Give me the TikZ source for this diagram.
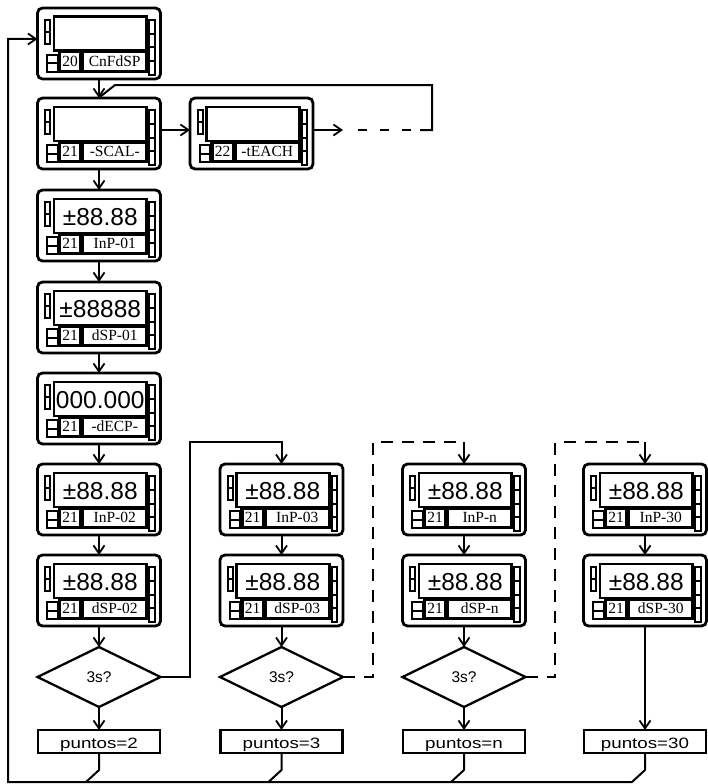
\documentclass[tikz,border=0pt]{standalone}
\usepackage{fontspec}
\setmainfont{Liberation Serif}
\newfontfamily\sansf{Liberation Sans}
\newfontfamily\sanswide[FakeStretch=1.25]{Liberation Sans}
\usetikzlibrary{arrows.meta,shapes.geometric,calc}
\newcommand\devbig{\sansf\fontsize{24.5pt}{24.5pt}\selectfont}
\newcommand\devsmall{\rmfamily\fontsize{15.5pt}{15.5pt}\selectfont}
\tikzset{
 devframe/.style={draw, line width=2.8pt, rounded corners=5pt, minimum width=123pt, minimum height=71pt, inner sep=0pt, outer sep=0pt, anchor=north west, fill=white},
 conn/.style={line width=2pt},
 arr/.style={conn, -{Straight Barb[length=8pt,width=11pt,line width=1.8pt]}},
 dsh/.style={conn, dash pattern=on 12pt off 9pt},
 decision/.style={diamond, aspect=2, draw, line width=2.3pt, minimum width=123pt, minimum height=60pt, inner sep=0pt, outer sep=0pt, font=\sansf\fontsize{15.5pt}{15.5pt}\selectfont},
 result/.style={draw, line width=2.3pt, minimum width=122pt, minimum height=23pt, inner sep=0pt, outer sep=0pt, text height=17pt, text depth=3pt, font=\sanswide\fontsize{15pt}{15pt}\selectfont},
 led/.style={draw, line width=2pt, fill=white},
 bigtxt/.style={font=\devbig, inner sep=0pt},
 smalltxt/.style={font=\devsmall, inner sep=0pt},
}
% name, x, y, big text, number, label
\newcommand\device[6]{%
 \node[devframe] (#1) at (#2,#3) {};
 \begin{scope}[shift={(#2,#3)}]
  \fill (15,7.5) rectangle (110.5,44);
  \fill[white] (17.8,10.3) rectangle (107.7,41.5);
  \fill (20,41.5) rectangle (110.5,64.5);
  \fill[white] (23.5,45.5) rectangle (41.5,62.3);
  \fill[white] (46.5,45.5) rectangle (107.7,62.3);
  \node[bigtxt] (#1big) at (62.75,27) {#4};
  \node[smalltxt] (#1num) at (32.5,53.5) {#5};
  \node[smalltxt] (#1lab) at (77.25,53.5) {#6};
  \draw[led] (7.5,12) rectangle (12.5,24) (7.5,24) rectangle (12.5,36);
  \draw[led] (111.5,12) rectangle (117,25.75) (111.5,25.75) rectangle (117,39.5)
             (111.5,39.5) rectangle (117,53.25) (111.5,53.25) rectangle (117,67);
  \draw[led] (9.5,47) rectangle (20,55.5) (9.5,55.5) rectangle (20,64);
 \end{scope}
}
\begin{document}
\begin{tikzpicture}[x=1pt,y=-1pt]
\useasboundingbox (0,0) rectangle (708,784);

\device{d1}{37.5}{8}{}{20}{CnFdSP}
\device{d2}{37.5}{98}{}{21}{-SCAL-}
\device{t}{190}{98}{}{22}{-tEACH}
\device{a1}{37.5}{190}{±88.88}{21}{InP-01}
\device{a2}{37.5}{282}{±88888}{21}{dSP-01}
\device{a3}{37.5}{373}{000.000}{21}{-dECP-}
\device{p2}{37.5}{464}{±88.88}{21}{InP-02}
\device{q2}{37.5}{555}{±88.88}{21}{dSP-02}
\device{p3}{220}{464}{±88.88}{21}{InP-03}
\device{q3}{220}{555}{±88.88}{21}{dSP-03}
\device{pn}{402.5}{464}{±88.88}{21}{InP-n}
\device{qn}{402.5}{555}{±88.88}{21}{dSP-n}
\device{p30}{583.5}{464}{±88.88}{21}{InP-30}
\device{q30}{583.5}{555}{±88.88}{21}{dSP-30}

\node[decision] (k2) at (99,677) {3s?};
\node[decision] (k3) at (281.5,677) {3s?};
\node[decision] (kn) at (464,677) {3s?};

\node[result] (r2) at (99,741.5) {puntos=2};
\node[result] (r3) at (281.5,741.5) {puntos=3};
\node[result] (rn) at (464,741.5) {puntos=n};
\node[result] (r30) at (645,741.5) {puntos=30};

% top row
\draw[arr] (d1.south) -- (d2.north);
\draw[arr] ($(d2.north east)+(0,32)$) -- ($(t.north west)+(0,32)$);
\coordinate (tend) at ($(t.north east)+(30,32)$);
\draw[arr] ($(t.north east)+(0,32)$) -- (tend);
\coordinate (lp1) at (420,130);
\coordinate (lp2) at (432,85);
\draw[conn, dash pattern=on 9pt off 13pt] ($(tend)+(15,0)$) -- (lp1);
\draw[conn] (lp1) -| (lp2) -- (115,85) -- ($(d2.north)+(1.5,-1.5)$);

% first column
\draw[arr] (d2.south) -- (a1.north);
\draw[arr] (a1.south) -- (a2.north);
\draw[arr] (a2.south) -- (a3.north);
\draw[arr] (a3.south) -- (p2.north);
\draw[arr] (p2.south) -- (q2.north);
\draw[arr] (q2.south) -- (k2.north);
\draw[arr] (k2.south) -- (r2.north);

% other columns
\draw[arr] (p3.south) -- (q3.north);
\draw[arr] (q3.south) -- (k3.north);
\draw[arr] (k3.south) -- (r3.north);
\draw[arr] (pn.south) -- (qn.north);
\draw[arr] (qn.south) -- (kn.north);
\draw[arr] (kn.south) -- (rn.north);
\draw[arr] (p30.south) -- (q30.north);
\draw[arr] (q30.south) -- (r30.north);

% links between columns
\coordinate (j2) at (190,442);
\coordinate (j3) at (373,442);
\coordinate (jn) at (555,442);
\draw[arr] (k2.east) -| (j2) -| (p3.north);
\draw[dsh] (k3.east) -| (j3) -- (pn.north |- j3);
\draw[arr] (pn.north |- j3) -- (pn.north);
\draw[dsh] (kn.east) -| (jn) -- (p30.north |- jn);
\draw[arr] (p30.north |- jn) -- (p30.north);

% return line
\coordinate (ret) at (8,782);
\draw[conn] (r2.south) -- ++(0,17) -- ++(-13,12);
\draw[conn] (r3.south) -- ++(0,17) -- ++(-13,12);
\draw[conn] (rn.south) -- ++(0,17) -- ++(-13,12);
\draw[arr] (r30.south) -- ++(0,17) -- ++(-13,12) -- (ret) |- ($(d1.north west)+(0,31)$);
\end{tikzpicture}
\end{document}
